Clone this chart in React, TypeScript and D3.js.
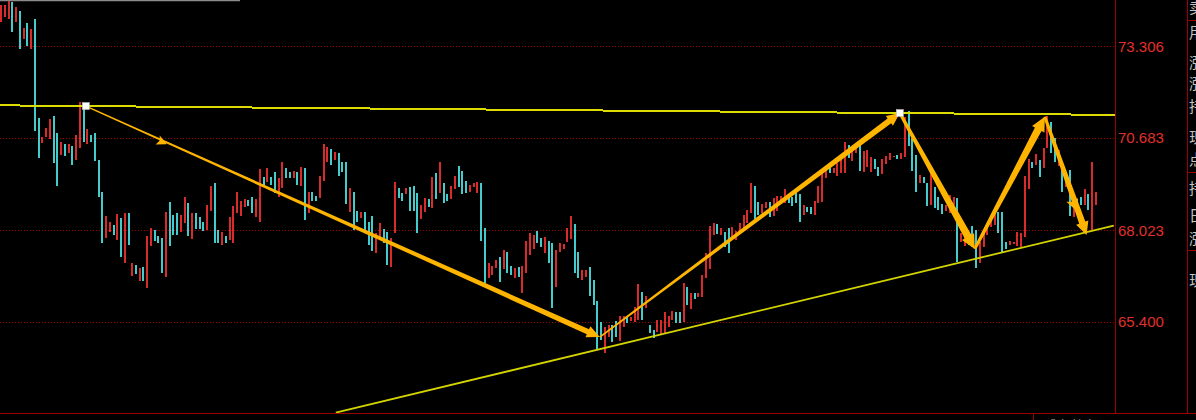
import React from 'react';
import * as d3 from 'd3';

// ---- data ----
const tickValues = [73.306, 70.683, 68.023, 65.4];
const tickLabels = ['73.306', '70.683', '68.023', '65.400'];

const opens = [
  74.00, 74.15, 74.09, 74.58, 74.00, 74.32, 73.52, 73.97, 73.23, 74.09,
  71.25, 70.53, 70.70, 70.64, 71.30, 70.82, 70.19, 70.50, 70.24, 70.44,
  70.04, 70.39, 71.59, 70.50, 70.76, 70.82, 70.04, 69.12, 67.80, 67.97,
  68.18, 67.74, 68.38, 67.08, 68.52, 66.71, 67.03, 66.57, 66.97, 66.37,
  67.57, 68.03, 67.86, 67.80, 66.68, 68.84, 68.46, 68.52, 67.97, 68.23,
  68.81, 67.77, 68.52, 68.40, 68.26, 68.03, 68.58, 69.38, 68.03, 67.60,
  67.86, 67.74, 67.66, 68.52, 68.43, 68.69, 68.89, 68.98, 68.40, 68.26,
  69.55, 69.41, 69.55, 69.70, 68.98, 69.24, 69.81, 69.70, 69.53, 69.70,
  69.30, 69.81, 68.52, 69.12, 69.01, 68.95, 69.44, 69.98, 70.36, 70.04,
  70.24, 69.98, 69.98, 68.55, 69.12, 68.58, 68.38, 68.55, 68.26, 68.43,
  67.37, 67.74, 68.06, 67.97, 66.97, 67.95, 69.24, 69.09, 69.07, 69.27,
  69.30, 69.09, 68.35, 68.55, 68.92, 68.66, 69.67, 69.09, 69.38, 69.07,
  68.92, 69.21, 69.87, 69.73, 69.44, 69.12, 69.27, 69.09, 69.38, 68.09,
  66.65, 66.74, 66.94, 67.26, 66.91, 67.40, 67.00, 66.65, 66.97, 66.22,
  66.80, 67.31, 67.49, 68.00, 67.80, 67.37, 67.72, 67.66, 66.40, 67.40,
  67.49, 67.69, 67.77, 68.20, 67.40, 66.60, 66.68, 66.97, 66.60, 65.99,
  65.39, 64.50, 64.96, 65.30, 65.42, 64.84, 65.25, 65.56, 65.42, 65.39,
  65.45, 66.25, 65.79, 65.30, 65.16, 65.10, 65.02, 65.07, 65.25, 65.45,
  65.68, 65.68, 65.39, 66.40, 65.76, 66.22, 66.11, 66.11, 66.65, 66.91,
  67.89, 68.20, 67.89, 67.97, 68.09, 67.74, 67.74, 67.97, 68.03, 68.23,
  68.52, 69.30, 68.84, 68.52, 68.66, 68.84, 68.43, 68.58, 68.81, 68.81,
  69.04, 68.98, 69.18, 69.07, 68.46, 68.69, 68.69, 68.46, 68.81, 68.84,
  69.53, 69.90, 69.67, 69.58, 69.67, 69.67, 70.47, 70.01, 70.24, 70.53,
  69.70, 69.84, 69.70, 70.07, 69.84, 69.64, 69.93, 70.04, 70.13, 70.19,
  70.07, 70.13, 71.45, 70.67, 70.19, 69.38, 69.55, 69.38, 68.75, 69.27,
  68.98, 68.78, 68.58, 68.52, 68.75, 68.95, 67.69, 67.57, 67.89, 68.15,
  68.03, 67.08, 67.54, 67.89, 68.12, 68.18, 68.55, 68.55, 67.69, 67.60,
  67.63, 67.57, 67.54, 67.83, 69.21, 69.98, 69.90, 70.04, 69.81, 70.39,
  71.13, 70.67, 69.87, 69.78, 69.27, 69.75, 68.40, 68.92, 68.98, 68.75,
  69.07, 68.03, 68.75,
];

const closes = [
  74.49, 74.49, 74.61, 73.72, 74.43, 73.23, 73.83, 73.31, 73.80, 70.87,
  70.10, 70.70, 70.96, 71.22, 69.96, 69.30, 70.56, 70.16, 70.50, 69.90,
  70.76, 71.71, 70.56, 70.93, 70.56, 70.01, 68.98, 67.66, 68.43, 68.26,
  67.89, 68.49, 67.26, 68.52, 67.60, 67.08, 66.77, 66.94, 66.57, 67.86,
  68.09, 67.72, 67.66, 66.80, 68.55, 67.57, 67.89, 67.89, 68.46, 68.98,
  67.86, 68.52, 68.06, 68.06, 68.00, 68.75, 69.30, 67.66, 67.66, 67.97,
  67.66, 68.40, 68.72, 69.12, 68.87, 68.92, 68.72, 68.52, 68.92, 69.78,
  69.32, 69.81, 69.32, 69.09, 69.53, 69.98, 69.53, 69.53, 69.73, 69.32,
  69.84, 68.32, 69.12, 68.87, 68.87, 69.58, 70.50, 70.41, 69.90, 70.27,
  69.58, 69.70, 68.78, 69.24, 68.03, 68.26, 68.55, 68.03, 67.60, 67.43,
  67.95, 68.23, 67.66, 67.03, 67.80, 69.41, 68.95, 68.87, 69.24, 68.58,
  68.58, 67.95, 68.75, 68.95, 68.69, 69.55, 68.92, 69.98, 68.81, 68.87,
  69.30, 69.58, 69.27, 69.07, 69.09, 69.32, 69.38, 69.41, 67.72, 66.51,
  67.08, 67.00, 67.17, 66.54, 67.46, 66.80, 66.74, 66.94, 66.68, 67.00,
  67.72, 67.95, 67.89, 67.66, 67.54, 67.83, 67.08, 65.79, 67.46, 67.66,
  67.63, 68.09, 68.43, 66.80, 66.65, 66.88, 66.88, 66.14, 65.88, 64.59,
  64.87, 65.25, 65.30, 64.82, 64.96, 65.56, 65.56, 65.36, 65.53, 65.82,
  66.48, 65.45, 66.14, 65.07, 64.93, 65.45, 65.45, 65.68, 65.56, 65.71,
  65.36, 65.36, 66.51, 65.88, 66.22, 66.05, 66.22, 66.74, 67.37, 68.15,
  68.23, 67.92, 68.09, 67.54, 67.37, 68.12, 68.00, 68.23, 68.46, 68.61,
  69.38, 68.35, 68.46, 68.78, 68.84, 68.40, 68.95, 69.01, 69.01, 69.21,
  68.81, 68.72, 68.81, 68.26, 68.75, 68.55, 68.49, 68.87, 69.30, 69.75,
  69.75, 69.67, 69.81, 69.96, 70.10, 70.56, 70.10, 70.36, 70.41, 69.73,
  70.30, 70.33, 70.13, 69.78, 69.58, 70.07, 70.16, 70.24, 70.16, 70.07,
  70.24, 71.28, 70.44, 69.73, 69.12, 69.61, 69.38, 68.72, 69.67, 68.66,
  68.61, 68.49, 68.75, 69.04, 68.98, 67.11, 67.95, 67.86, 67.60, 67.54,
  66.94, 67.69, 67.95, 68.18, 68.38, 68.55, 67.95, 67.40, 67.49, 67.72,
  67.69, 67.97, 67.95, 69.58, 70.07, 69.81, 70.21, 69.55, 70.39, 71.30,
  70.24, 69.98, 70.33, 69.12, 69.61, 68.43, 69.04, 68.55, 68.75, 69.21,
  68.61, 69.98, 69.12,
];

// hand-drawn annotations: [bar index, price]
const swingPoints: [number, number][] = [
  [22.61, 71.59],
  [159.68, 64.96],
  [239.68, 71.39],
  [259.68, 67.49],
  [278.35, 71.28],
  [289.49, 67.89],
];
const resistancePoints: [number, number][] = [
  [22.61, 71.59],
  [239.68, 71.39],
];
const supportPoints: [number, number][] = [
  [89.28, 62.79],
  [296.75, 68.16],
];
const panelLabels = ['卖', '用', '涨', '涨', '持', '现', '点', '持', '日', '涨', '现'];
const panelLabelY = [6, 31, 61, 82, 105, 136, 158, 187, 214, 237, 279];
const panelDividers = [20, 172, 250];

// ---- geometry helpers ----
function arrowPoly(
  x0: number, y0: number, x1: number, y1: number,
  w0: number, w1: number, hl: number, hw: number
): string {
  const dx = x1 - x0, dy = y1 - y0;
  const L = Math.hypot(dx, dy);
  const ux = dx / L, uy = dy / L;
  const nx = -uy, ny = ux;
  const bx = x1 - ux * hl, by = y1 - uy * hl;
  const pts = [
    [x0 + nx * w0 / 2, y0 + ny * w0 / 2],
    [bx + nx * w1 / 2, by + ny * w1 / 2],
    [bx + nx * hw, by + ny * hw],
    [x1, y1],
    [bx - nx * hw, by - ny * hw],
    [bx - nx * w1 / 2, by - ny * w1 / 2],
    [x0 - nx * w0 / 2, y0 - ny * w0 / 2],
  ];
  return pts.map(p => p[0].toFixed(2) + ',' + p[1].toFixed(2)).join(' ');
}

function headPoly(cx: number, cy: number, ux: number, uy: number, hl: number, hw: number, off = 0): string {
  const nx = -uy, ny = ux;
  const tx = cx + ux * hl / 2 + nx * off, ty = cy + uy * hl / 2 + ny * off;
  const bx = cx - ux * hl / 2 + nx * off, by = cy - uy * hl / 2 + ny * off;
  const pts = [
    [tx, ty],
    [bx + nx * hw, by + ny * hw],
    [bx + ux * 2, by + uy * 2],
    [bx - nx * hw, by - ny * hw],
  ];
  return pts.map(p => p[0].toFixed(2) + ',' + p[1].toFixed(2)).join(' ');
}

export default function App() {
  const W = 1196, H = 420;
  const plotRight = 1115;
  const n = opens.length;
  const x = d3.scaleLinear().domain([0, n - 1]).range([1, 1096]);
  const y = d3.scaleLinear().domain([65.4, 73.306]).range([321.7, 46.3]);

  const up = '#d82c2c';
  const down = '#44cccc';
  const frame = '#9a0000';
  const orange = '#ffb400';

  // resistance extended over the plot
  const [r0, r1] = resistancePoints.map(p => [x(p[0]), y(p[1])]);
  const rSlope = (r1[1] - r0[1]) / (r1[0] - r0[0]);
  const rY = (px: number) => r0[1] + rSlope * (px - r0[0]);
  const [s0, s1] = supportPoints.map(p => [x(p[0]), y(p[1])]);

  const sp = swingPoints.map(p => [x(p[0]), y(p[1])]);
  const arrowStyle = [
    { w0: 1.4, w1: 5.5, hl: 13, hw: 6 },
    { w0: 1.6, w1: 6, hl: 13, hw: 6 },
    { w0: 3, w1: 7.5, hl: 14, hw: 7 },
    { w0: 3, w1: 7.5, hl: 14, hw: 7 },
    { w0: 3, w1: 6.5, hl: 13, hw: 6.5 },
  ];

  const arrows = sp.slice(0, -1).map((p, k) => {
    const q = sp[k + 1];
    const s = arrowStyle[k];
    return arrowPoly(p[0], p[1], q[0], q[1], s.w0, s.w1, s.hl, s.hw);
  });

  // small barbs drawn along the first and last arrows
  const barb = (k: number, t: number, hl: number, hw: number, off: number) => {
    const p = sp[k], q = sp[k + 1];
    const dx = q[0] - p[0], dy = q[1] - p[1];
    const L = Math.hypot(dx, dy);
    return headPoly(p[0] + dx * t, p[1] + dy * t, dx / L, dy / L, hl, hw, off);
  };

  return (
    <svg width={W} height={H} style={{ position: 'absolute', left: 0, top: 0, background: '#000' }}
      xmlns="http://www.w3.org/2000/svg">
      <rect x={0} y={0} width={W} height={H} fill="#000" />
      <defs>
        <clipPath id="plot">
          <rect x={0} y={0} width={plotRight} height={413} />
        </clipPath>
      </defs>

      {/* top grey strip */}
      <line x1={0} x2={240} y1={0.5} y2={0.5} stroke="#8a8a8a" strokeWidth={1.5} />

      {/* grid */}
      {tickValues.map((v, k) => (
        <line key={'g' + k} x1={0} x2={plotRight} y1={Math.round(y(v)) + 0.5} y2={Math.round(y(v)) + 0.5}
          stroke="#a00000" strokeWidth={1} strokeDasharray="1 2" />
      ))}

      <g clipPath="url(#plot)">
        {/* candles */}
        <g shapeRendering="crispEdges">
          {opens.map((o, i) => {
            const c = closes[i];
            const top = y(Math.max(o, c));
            const bot = y(Math.min(o, c));
            return (
              <rect key={i} x={Math.round(x(i) - 1)} y={top} width={2}
                height={Math.max(1, bot - top)} fill={c >= o ? up : down} />
            );
          })}
        </g>

        {/* resistance */}
        <line x1={0} y1={rY(0)} x2={plotRight} y2={rY(plotRight)} stroke="#dcdc00" strokeWidth={2}
          shapeRendering="crispEdges" />
        {/* support */}
        <line x1={s0[0]} y1={s0[1]} x2={s1[0]} y2={s1[1]} stroke="#d4d400" strokeWidth={1.8} />

        {/* arrows */}
        {arrows.map((pts, k) => (
          <polygon key={'a' + k} points={pts} fill={orange} />
        ))}
        <polygon points={barb(0, 0.15, 10, 5, 1.5)} fill={orange} />
        <polygon points={barb(4, 0.74, 11, 6, 2)} fill={orange} />

        {/* anchor squares */}
        {[sp[0], sp[2]].map((p, k) => (
          <rect key={'s' + k} x={p[0] - 3.5} y={p[1] - 3.5} width={7} height={7} fill="#fff"
            stroke="#bbb" strokeWidth={0.6} />
        ))}
      </g>

      {/* frame */}
      <g stroke={frame} shapeRendering="crispEdges">
        <line x1={1115.5} x2={1115.5} y1={0} y2={414} strokeWidth={1} />
        <line x1={1187.5} x2={1187.5} y1={0} y2={414} strokeWidth={1} />
        <line x1={0} x2={W} y1={413.5} y2={413.5} strokeWidth={1.5} />
        <line x1={1033.5} x2={1033.5} y1={413} y2={H} strokeWidth={1} />
        {panelDividers.map((d, k) => (
          <line key={'pd' + k} x1={1187} x2={W} y1={d + 0.5} y2={d + 0.5} strokeWidth={1} />
        ))}
      </g>

      {/* price labels */}
      {tickValues.map((v, k) => (
        <text key={'t' + k} x={1118} y={y(v)} dominantBaseline="central" fill="#e0302c"
          fontSize={15} fontFamily="'Liberation Sans', Arial, sans-serif">{tickLabels[k]}</text>
      ))}

      {/* cut-off side panel labels */}
      {panelLabels.map((t, k) => (
        <text key={'p' + k} x={1189} y={panelLabelY[k]} dominantBaseline="central" fill="#c4c4c4"
          fontSize={15} fontFamily="'Noto Sans CJK SC', sans-serif">{t}</text>
      ))}
      <text x={1045} y={430} fill="#b0b0b0" fontSize={12} fontFamily="'Noto Sans CJK SC', sans-serif">成交 持仓</text>
    </svg>
  );
}
